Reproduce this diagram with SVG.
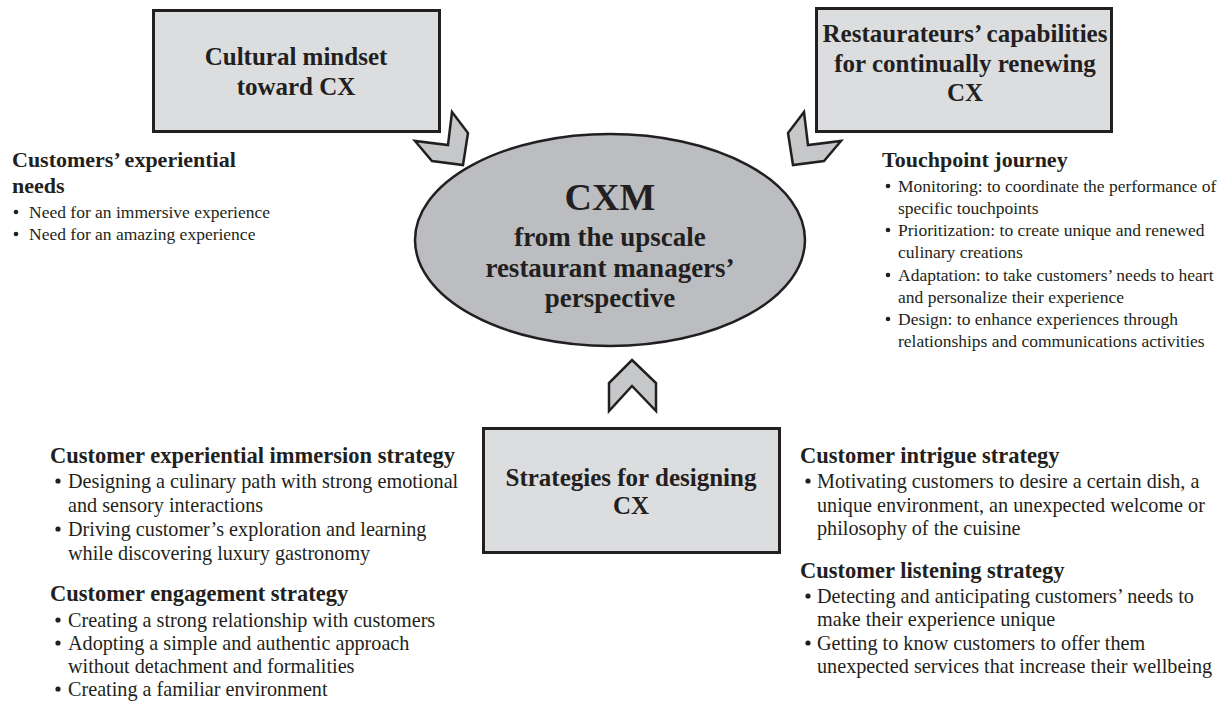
<svg xmlns="http://www.w3.org/2000/svg" width="1231" height="705" viewBox="0 0 1231 705">
  <style>
    .box { fill: #dcdddf; stroke: #231f20; stroke-width: 3; }
    .hub { fill: #bcbdc0; stroke: #231f20; stroke-width: 2.5; }
    .chev { fill: #c6c7c9; stroke: #231f20; stroke-width: 2.5; stroke-linejoin: miter; }
    text { font-family: "Liberation Serif", "Times New Roman", serif; fill: #231f20; }
    .title { font-size: 25px; font-weight: bold; text-anchor: middle; }
    .hubt { font-size: 27px; font-weight: bold; text-anchor: middle; }
    .big { font-size: 38px; }
    .h { font-size: 22.5px; font-weight: bold; }
    .hs { font-size: 22px; font-weight: bold; }
    .b { font-size: 17.5px; }
    .bl { font-size: 20.2px; }
    .dot { fill: #231f20; }
  </style>

  <!-- central hub -->
  <g id="hub">
    <ellipse class="hub" cx="610" cy="240" rx="195" ry="106"/>
    <text class="hubt" x="610" y="210"><tspan class="big">CXM</tspan></text>
    <text class="hubt" x="610" y="246">from the upscale</text>
    <text class="hubt" x="610" y="277">restaurant managers’</text>
    <text class="hubt" x="610" y="307">perspective</text>
  </g>

  <!-- cultural mindset -->
  <g id="mindset">
    <rect class="box" x="153.5" y="10.5" width="286" height="121"/>
    <text class="title" x="296" y="65">Cultural mindset</text>
    <text class="title" x="296" y="95">toward CX</text>
  </g>

  <!-- restaurateurs' capabilities -->
  <g id="capabilities">
    <rect class="box" x="816.5" y="8.5" width="295" height="123"/>
    <text class="title" x="965" y="42">Restaurateurs’ capabilities</text>
    <text class="title" x="965" y="72">for continually renewing</text>
    <text class="title" x="965" y="101">CX</text>
  </g>

  <!-- strategies -->
  <g id="strategies">
    <rect class="box" x="483.5" y="428.5" width="296" height="124"/>
    <text class="title" x="631" y="486">Strategies for designing</text>
    <text class="title" x="631" y="514">CX</text>
  </g>

  <!-- chevron connectors pointing at the hub -->
  <g id="connectors">
    <polygon class="chev" points="452,112 468,133 463,165 432,161 415,141 448,145"/>
    <polygon class="chev" points="804,112 788,133 793,165 824,161 841,141 808,145"/>
    <polygon class="chev" points="632,360 656,383 656,411 632,386 609,411 609,383"/>
  </g>

  <!-- customers' experiential needs -->
  <g id="needs">
    <text class="hs" x="12" y="167">Customers’ experiential</text>
    <text class="hs" x="12" y="193">needs</text>
    <circle class="dot" cx="16" cy="212" r="2.3"/><text class="b" x="29" y="218">Need for an immersive experience</text>
    <circle class="dot" cx="16" cy="234" r="2.3"/><text class="b" x="29" y="240">Need for an amazing experience</text>
  </g>

  <!-- touchpoint journey -->
  <g id="touchpoint">
    <text class="hs" x="882" y="167">Touchpoint journey</text>
    <circle class="dot" cx="888" cy="186" r="2.3"/><text class="b" x="898" y="192">Monitoring: to coordinate the performance of</text>
    <text class="b" x="898" y="214">specific touchpoints</text>
    <circle class="dot" cx="888" cy="230" r="2.3"/><text class="b" x="898" y="236">Prioritization: to create unique and renewed</text>
    <text class="b" x="898" y="258">culinary creations</text>
    <circle class="dot" cx="888" cy="275" r="2.3"/><text class="b" x="898" y="281">Adaptation: to take customers’ needs to heart</text>
    <text class="b" x="898" y="303">and personalize their experience</text>
    <circle class="dot" cx="888" cy="319" r="2.3"/><text class="b" x="898" y="325">Design: to enhance experiences through</text>
    <text class="b" x="898" y="347">relationships and communications activities</text>
  </g>

  <!-- immersion and engagement strategies -->
  <g id="immersion">
    <text class="h" x="50" y="463">Customer experiential immersion strategy</text>
    <circle class="dot" cx="58" cy="481" r="2.6"/><text class="bl" x="68" y="488">Designing a culinary path with strong emotional</text>
    <text class="bl" x="68" y="512">and sensory interactions</text>
    <circle class="dot" cx="58" cy="529" r="2.6"/><text class="bl" x="68" y="536">Driving customer’s exploration and learning</text>
    <text class="bl" x="68" y="560">while discovering luxury gastronomy</text>
  </g>
  <g id="engagement">
    <text class="h" x="50" y="601">Customer engagement strategy</text>
    <circle class="dot" cx="58" cy="620" r="2.6"/><text class="bl" x="68" y="627">Creating a strong relationship with customers</text>
    <circle class="dot" cx="58" cy="643" r="2.6"/><text class="bl" x="68" y="650">Adopting a simple and authentic approach</text>
    <text class="bl" x="68" y="673">without detachment and formalities</text>
    <circle class="dot" cx="58" cy="689" r="2.6"/><text class="bl" x="68" y="696">Creating a familiar environment</text>
  </g>

  <!-- intrigue and listening strategies -->
  <g id="intrigue">
    <text class="h" x="800" y="463">Customer intrigue strategy</text>
    <circle class="dot" cx="808" cy="481" r="2.6"/><text class="bl" x="817" y="488">Motivating customers to desire a certain dish, a</text>
    <text class="bl" x="817" y="512">unique environment, an unexpected welcome or</text>
    <text class="bl" x="817" y="535">philosophy of the cuisine</text>
  </g>
  <g id="listening">
    <text class="h" x="800" y="578">Customer listening strategy</text>
    <circle class="dot" cx="808" cy="596" r="2.6"/><text class="bl" x="817" y="603">Detecting and anticipating customers’ needs to</text>
    <text class="bl" x="817" y="626">make their experience unique</text>
    <circle class="dot" cx="808" cy="643" r="2.6"/><text class="bl" x="817" y="650">Getting to know customers to offer them</text>
    <text class="bl" x="817" y="673">unexpected services that increase their wellbeing</text>
  </g>
</svg>
